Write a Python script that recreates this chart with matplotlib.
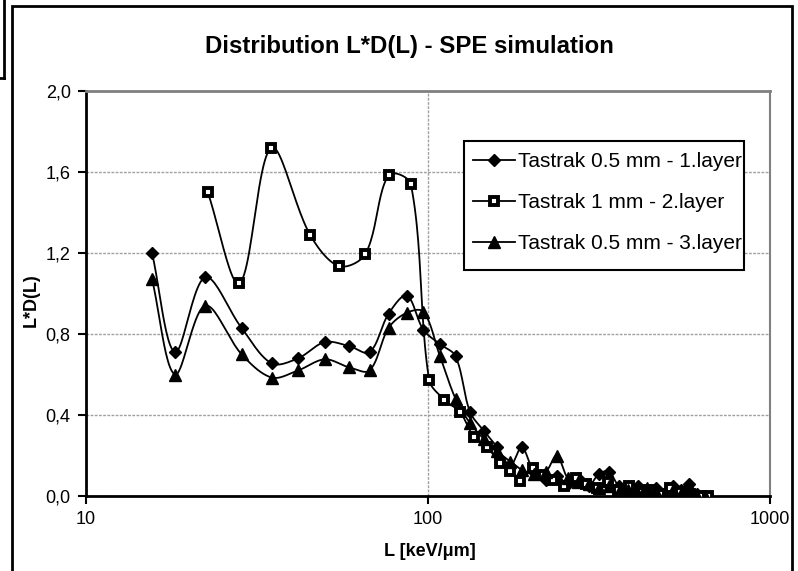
import numpy as np
import matplotlib
matplotlib.use('Agg')
import matplotlib.pyplot as plt
from matplotlib.lines import Line2D
from matplotlib.patches import Rectangle

plt.rcParams['font.family'] = ['Liberation Sans', 'DejaVu Sans']

# ---------------- data ----------------
x_layer1 = [15.6, 18.2, 22.3, 28.5, 34.9, 41.7, 49.9, 58.9, 67.5, 76.7, 86.7, 97, 108.4, 120.4,
            132.7, 146, 159.6, 174, 188, 204, 221, 238, 256, 275, 295, 316, 338, 361, 385,
            410, 436, 463, 491, 520, 550, 581, 613, 646]
y_layer1 = [1.20, 0.71, 1.08, 0.83, 0.655, 0.68, 0.76, 0.74, 0.71, 0.90, 0.99, 0.82, 0.75, 0.69,
            0.415, 0.32, 0.24, 0.15, 0.24, 0.12, 0.08, 0.10, 0.06, 0.09, 0.05, 0.11, 0.12, 0.05, 0.03,
            0.05, 0.02, 0.04, 0.01, 0.05, 0.03, 0.06, 0.01, 0.0]

x_layer2 = [22.7, 28.1, 34.8, 45.2, 54.9, 65.6, 76.7, 89.1, 100.7, 111.7, 124, 136.4, 149, 162,
            173.4, 185.5, 202.7, 216.8, 232, 250.6, 270, 290, 312, 335, 360, 386, 414, 444, 476,
            510, 546, 584, 624, 660]
y_layer2 = [1.50, 1.05, 1.72, 1.29, 1.135, 1.195, 1.585, 1.54, 0.575, 0.475, 0.415, 0.29, 0.24, 0.165,
            0.125, 0.075, 0.14, 0.105, 0.08, 0.05, 0.09, 0.06, 0.04, 0.07, 0.03, 0.05, 0.02, 0.03, 0.01,
            0.04, 0.02, 0.01, 0.0, 0.0]

x_layer3 = x_layer1
y_layer3 = [1.07, 0.60, 0.94, 0.70, 0.585, 0.62, 0.675, 0.635, 0.62, 0.83, 0.905, 0.91, 0.69, 0.48,
            0.36, 0.28, 0.22, 0.17, 0.13, 0.11, 0.12, 0.20, 0.09, 0.07, 0.06, 0.04, 0.05, 0.02, 0.03,
            0.01, 0.04, 0.02, 0.0, 0.03, 0.01, 0.02, 0.0, 0.0]

labels = ['Tastrak 0.5 mm - 1.layer', 'Tastrak 1 mm - 2.layer', 'Tastrak 0.5 mm - 3.layer']
yticks = [0.0, 0.4, 0.8, 1.2, 1.6, 2.0]
xticks = [10, 100, 1000]


# excel-like smoothed line: bezier through the points, control arms scaled by segment length
def smooth(xs, ys, n=24):
    u = np.log10(xs) * 342.0
    v = np.asarray(ys) * 202.5
    pts = np.column_stack([u, v])
    p = np.vstack([pts[0], pts, pts[-1]])
    t = np.linspace(0, 1, n)[:, None]
    out = []
    for i in range(1, len(p) - 2):
        p0, p1, p2, p3 = p[i - 1], p[i], p[i + 1], p[i + 2]
        d01 = np.hypot(*(p1 - p0))
        d12 = np.hypot(*(p2 - p1))
        d23 = np.hypot(*(p3 - p2))
        f1 = d12 / (d01 + d12) / 3 if d01 + d12 > 0 else 0
        f2 = d12 / (d12 + d23) / 3 if d12 + d23 > 0 else 0
        c1 = p1 + (p2 - p0) * f1
        c2 = p2 - (p3 - p1) * f2
        seg = (1 - t) ** 3 * p1 + 3 * (1 - t) ** 2 * t * c1 + 3 * (1 - t) * t ** 2 * c2 + t ** 3 * p2
        out.append(seg)
    c = np.vstack(out)
    return 10 ** (c[:, 0] / 342.0), c[:, 1] / 202.5


W, H = 798, 571
fig = plt.figure(figsize=(W / 100, H / 100), dpi=100)
ax = fig.add_axes([86 / W, 1 - 496 / H, (770 - 86) / W, (496 - 91) / H])

styles = [
    dict(marker='D', ms=6.2, mfc='black', mec='black'),
    dict(marker='s', ms=6.3, mfc='white', mec='black', mew=2.8),
    dict(marker='^', ms=8, mfc='black', mec='black'),
]
series = [(x_layer1, y_layer1), (x_layer2, y_layer2), (x_layer3, y_layer3)]

for (xs, ys), st in zip(series, styles):
    sx, sy = smooth(xs, ys)
    ax.plot(sx, sy, color='black', lw=1.3, zorder=3)
    ax.plot(xs, ys, ls='none', zorder=4, **st)

ax.set_xscale('log')
ax.set_xlim(10, 1000)
ax.set_ylim(0, 2.0)
ax.set_xticks(xticks)
ax.set_xticklabels([str(v) for v in xticks])
ax.xaxis.set_minor_locator(matplotlib.ticker.NullLocator())
ax.set_yticks(yticks)
ax.set_yticklabels([f'{v:.1f}'.replace('.', ',') for v in yticks])
ax.tick_params(direction='out', length=6, width=1.5, labelsize=13, pad=5)

ax.grid(True, axis='both', color='#a0a0a0', ls=(0, (2, 1)), lw=1, zorder=0)
ax.set_axisbelow(True)
for s in ['left', 'bottom']:
    ax.spines[s].set_linewidth(2)
    ax.spines[s].set_color('black')
ax.spines['top'].set_color('#808080')
ax.spines['top'].set_linewidth(2)
ax.spines['right'].set_color('#808080')
ax.spines['right'].set_linewidth(1.5)

# legend
handles = [Line2D([], [], color='black', lw=1.3, **st) for st in styles]
ax.add_patch(Rectangle((464 / W, 1 - 270 / H), (744 - 464) / W, (270 - 141) / H,
                       transform=fig.transFigure, facecolor='white', edgecolor='black',
                       lw=1.5, zorder=6, clip_on=False))
leg = ax.legend(handles, labels, loc='upper left', bbox_to_anchor=(467 / W, 1 - 146 / H),
                bbox_transform=fig.transFigure, frameon=False, fontsize=15,
                handlelength=2.0, handletextpad=0.15, labelspacing=1.05, borderpad=0.3,
                borderaxespad=0)
leg.set_zorder(7)

# texts
fig.text(409 / W, 1 - 47 / H, 'Distribution L*D(L) - SPE simulation', fontsize=17.3,
         fontweight='bold', ha='center', va='center')
fig.text(31 / W, 1 - 300 / H, 'L*D(L)', fontsize=13, fontweight='bold', rotation=90,
         ha='center', va='center')
fig.text(430 / W, 1 - 551 / H, 'L [keV/μm]', fontsize=13, fontweight='bold',
         ha='center', va='center')

# chart frame and the edge of the neighbouring box
fig.add_artist(Rectangle((12 / W, -0.05), (792 - 12) / W, 1.05 - 6 / H, transform=fig.transFigure,
                         fill=False, edgecolor='black', lw=2))
fig.add_artist(Line2D([4 / W, 4 / W], [1.0, 1 - 78 / H], color='black', lw=2))
fig.add_artist(Line2D([0, 4 / W], [1 - 78 / H, 1 - 78 / H], color='black', lw=2))

fig.savefig('out.png', dpi=100)
